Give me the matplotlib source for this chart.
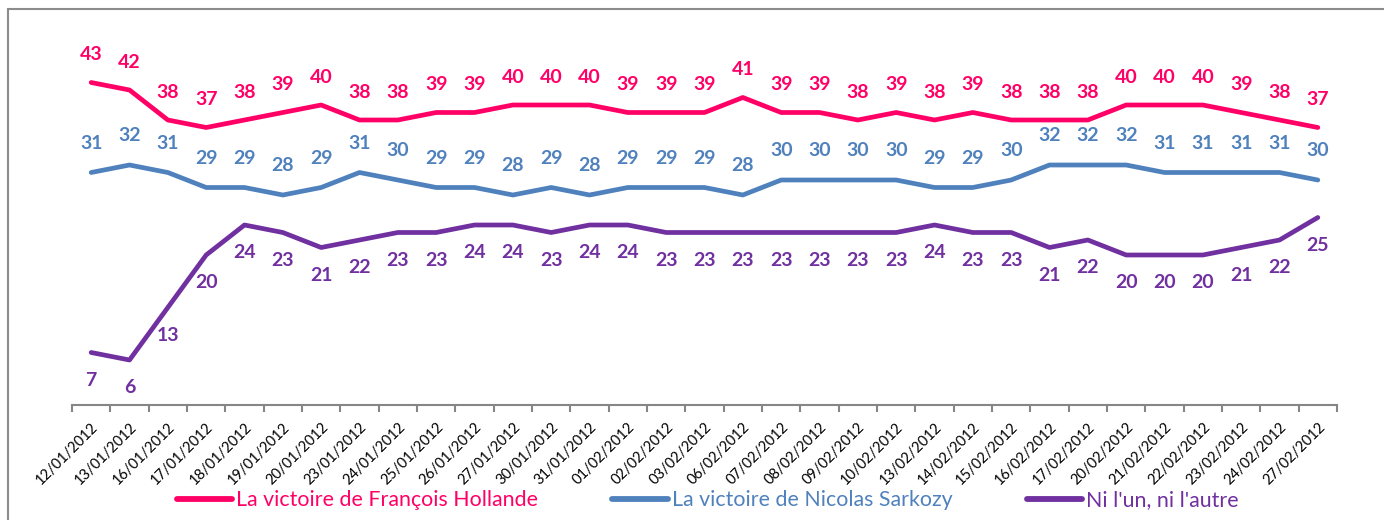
import matplotlib
matplotlib.use("Agg")
import matplotlib.pyplot as plt
from matplotlib.patches import Rectangle
import numpy as np

plt.rcParams['font.family'] = ['Lato', 'DejaVu Sans']

dates = ['12/01/2012', '13/01/2012', '16/01/2012', '17/01/2012', '18/01/2012', '19/01/2012',
         '20/01/2012', '23/01/2012', '24/01/2012', '25/01/2012', '26/01/2012', '27/01/2012',
         '30/01/2012', '31/01/2012', '01/02/2012', '02/02/2012', '03/02/2012', '06/02/2012',
         '07/02/2012', '08/02/2012', '09/02/2012', '10/02/2012', '13/02/2012', '14/02/2012',
         '15/02/2012', '16/02/2012', '17/02/2012', '20/02/2012', '21/02/2012', '22/02/2012',
         '23/02/2012', '24/02/2012', '27/02/2012']
hollande = [43, 42, 38, 37, 38, 39, 40, 38, 38, 39, 39, 40, 40, 40, 39, 39, 39, 41, 39, 39, 38,
            39, 38, 39, 38, 38, 38, 40, 40, 40, 39, 38, 37]
sarkozy = [31, 32, 31, 29, 29, 28, 29, 31, 30, 29, 29, 28, 29, 28, 29, 29, 29, 28, 30, 30, 30,
           30, 29, 29, 30, 32, 32, 32, 31, 31, 31, 31, 30]
ni_lun = [7, 6, 13, 20, 24, 23, 21, 22, 23, 23, 24, 24, 23, 24, 24, 23, 23, 23, 23, 23, 23, 23,
          24, 23, 23, 21, 22, 20, 20, 20, 21, 22, 25]

series = [
    ('La victoire de François Hollande', hollande, '#FF0066', 20),
    ('La victoire de Nicolas Sarkozy', sarkozy, '#4F81BD', 21),
    ("Ni l'un, ni l'autre", ni_lun, '#7030A0', -20),
]

fig = plt.figure(figsize=(13.84, 5.2), dpi=100)
ax = fig.add_axes([72 / 1384, 1 - 405 / 520, (1337 - 72) / 1384, 375 / 520])

x = np.arange(len(dates))
handles = []
for name, vals, col, off in series:
    h, = ax.plot(x, vals, color=col, lw=3.4, solid_joinstyle='round',
                 solid_capstyle='round', label=name)
    handles.append(h)
    for xi, v in zip(x, vals):
        ax.annotate(str(v), (xi, v), xytext=(0, off), textcoords='offset points',
                    ha='center', va='center', color=col, fontsize=14, fontweight='bold')

ax.set_xlim(-0.5, len(dates) - 0.5)
ax.set_ylim(0, 50)
for s in ['top', 'right', 'left']:
    ax.spines[s].set_visible(False)
ax.spines['bottom'].set_color('#868686')
ax.spines['bottom'].set_linewidth(1.5)
ax.set_yticks([])

ax.set_xticks(x)
ax.set_xticklabels(dates, rotation=45, ha='right', rotation_mode='anchor', fontsize=10.5)
ax.tick_params(axis='x', which='major', length=0, pad=11)
ax.set_xticks(np.arange(-0.5, len(dates)), minor=True)
ax.tick_params(axis='x', which='minor', length=5, width=1.5, color='#868686')

leg = fig.legend(handles=handles, loc='center left', bbox_to_anchor=(168 / 1384, 1 - 500 / 520),
                 ncol=3, frameon=False, fontsize=15.4, handlelength=2.6, handletextpad=0.2,
                 columnspacing=3.45, borderaxespad=0)
for t, h, (_, _, col, _) in zip(leg.get_texts(), leg.legend_handles, series):
    t.set_color(col)
    h.set_linewidth(4.2)

fig.patches.append(Rectangle((8 / 1384, -0.1), 1.2, 1 - 9 / 520 + 0.1, transform=fig.transFigure,
                             fill=False, edgecolor='#8c8c8c', lw=1.5))

fig.savefig('out.png', dpi=100)
